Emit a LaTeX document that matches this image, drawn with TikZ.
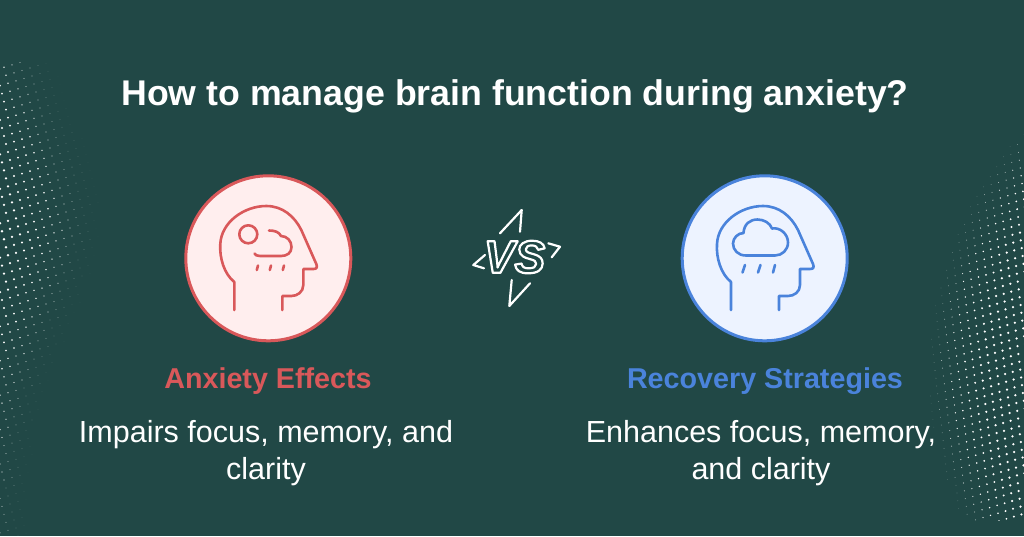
\documentclass[tikz,border=0pt]{standalone}
\usepackage{fontspec}
\setmainfont{Liberation Sans}
\definecolor{bgteal}{HTML}{214846}
\definecolor{effred}{HTML}{D9585A}
\definecolor{effpink}{HTML}{FFEEEE}
\definecolor{recblue}{HTML}{4A83DB}
\definecolor{recpale}{HTML}{EDF3FF}
\tikzset{
  badge/.style={circle, line width=3pt, minimum size=165pt, inner sep=0pt},
  headtext/.style={font=\fontsize{28.7}{34}\selectfont\bfseries},
  bodytext/.style={font=\fontsize{30.5}{37}\selectfont, text=white, align=center, anchor=base},
  iconline/.style={line width=2.6pt, line cap=round, line join=round},
  vsline/.style={white, line width=2.2pt, line cap=round, line join=round}
}
% head outline, neck bottom left at (0,0)
\newcommand{\headline}[1]{
\draw[iconline, #1] (0,0) -- (0,-28) .. controls (-10,-36) and (-15,-52) .. (-14,-66)
  .. controls (-13,-88) and (10,-104) .. (32,-104)
  .. controls (48,-104) and (60,-94) .. (67,-80)
  -- (82,-46) .. controls (83,-43) and (83,-41) .. (79,-41) -- (69,-41) -- (69,-25)
  .. controls (69,-18) and (63,-14) .. (57,-14) -- (48,-14) -- (48,0);
}
\begin{document}
\begin{tikzpicture}[x=1pt, y=-1pt]
\useasboundingbox (0,0) rectangle (1024,536);
\fill[bgteal] (0,0) rectangle (1024,536);
% dots on the left
\begin{scope}
\clip (0,62) rectangle (120,536);
\foreach \i in {-12,...,20}
  \foreach \j in {0,...,72}{
    \pgfmathsetmacro{\px}{-8+\i*8.0+(\j-30)*2.0}
    \pgfmathsetmacro{\py}{20+\j*8.0-\i*2.4}
    \pgfmathsetmacro{\rest}{25+75*exp(-((\py-217)/155)^2)-\px}
    \ifdim\rest pt>0pt
      \pgfmathsetmacro{\rdot}{min(1.3,0.2+\rest/80)}
      \pgfmathsetmacro{\odot}{min(1,0.15+\rest/60*(0.6+\py/500))}
      \fill[white, opacity=\odot] (\px,\py) circle (\rdot);
    \fi
  }
\end{scope}
% dots on the right
\begin{scope}
\clip (900,100) rectangle (1024,520);
\foreach \i in {-4,...,16}
  \foreach \j in {0,...,54}{
    \pgfmathsetmacro{\px}{1028-\i*7.5+(\j-26)*0.9}
    \pgfmathsetmacro{\py}{100+\j*7.8+\i*2.2}
    \pgfmathsetmacro{\rest}{356-veclen(\px-1285,\py-371)}
    \ifdim\rest pt>0pt
      \pgfmathsetmacro{\rdot}{min(1.25,0.3+\rest/60)}
      \pgfmathsetmacro{\odot}{min(1,0.3+\rest/35)}
      \fill[white, opacity=\odot] (\px,\py) circle (\rdot);
    \fi
  }
\end{scope}
\node[font=\fontsize{35.7}{42}\selectfont\bfseries, text=white, anchor=base] (title) at (515,105) {How to manage brain function during anxiety?};
% left side
\node[badge, draw=effred, fill=effpink] (effcircle) at (268.3,258.3) {};
\begin{scope}[shift={(234.3,310)}]
\headline{effred}
\end{scope}
\draw[iconline, effred] (248.3,234.3) circle (9);
\draw[iconline, effred] (269,230.5) .. controls (275,230.5) and (279,232) .. (281,236)
  .. controls (287,236) and (291.5,241) .. (291.5,247) .. controls (291.5,253) and (287,256) .. (281,256)
  -- (260,256) .. controls (257,256) and (255,255) .. (254.5,253.5);
\draw[iconline, effred] (258,265.5) -- (256.8,270);
\draw[iconline, effred] (271,265.5) -- (269.8,270);
\draw[iconline, effred] (284,265.5) -- (282.8,270);
\node[headtext, text=effred, anchor=base] (efftitle) at (268,388) {Anxiety Effects};
\node[bodytext] (efftext) at (266,479) {Impairs focus, memory, and\\clarity};
% right side
\node[badge, draw=recblue, fill=recpale] (reccircle) at (764.7,258.3) {};
\begin{scope}[shift={(731,310)}]
\headline{recblue}
\end{scope}
\draw[iconline, recblue] (746,255.5) .. controls (738,255.5) and (733,250) .. (733,243.5)
  .. controls (733,238) and (738,233) .. (743.5,233)
  .. controls (744,224) and (750,219.5) .. (757.5,219.5)
  .. controls (764,219.5) and (770,223) .. (772,228.5)
  .. controls (780,227) and (788,234) .. (788,242.5)
  .. controls (788,250) and (782,255.5) .. (775,255.5) -- cycle;
\draw[iconline, recblue] (745,265) -- (742.5,272.5);
\draw[iconline, recblue] (760.5,265) -- (758,272.5);
\draw[iconline, recblue] (775,265) -- (773,272.5);
\node[headtext, text=recblue, anchor=base] (rectitle) at (765,388) {Recovery Strategies};
\node[bodytext] (rectext) at (761,479) {Enhances focus, memory,\\and clarity};
% vs mark
\node[font=\fontsize{46}{50}\selectfont\bfseries\itshape, text=white] (vsmark) at (514.5,257)
  {\special{pdf:code 1 Tr 2.2 w 1 j}VS\special{pdf:code 0 Tr}};
\draw[vsline] (500,233.3) -- (521.7,210) -- (520,231.7);
\draw[vsline] (530,283.3) -- (509.3,306) -- (511.7,280);
\draw[vsline] (485,255) -- (473.3,265) -- (484,268.3);
\draw[vsline] (548.3,243.3) -- (560,246.7) -- (551.7,257.3);
\end{tikzpicture}
\end{document}
